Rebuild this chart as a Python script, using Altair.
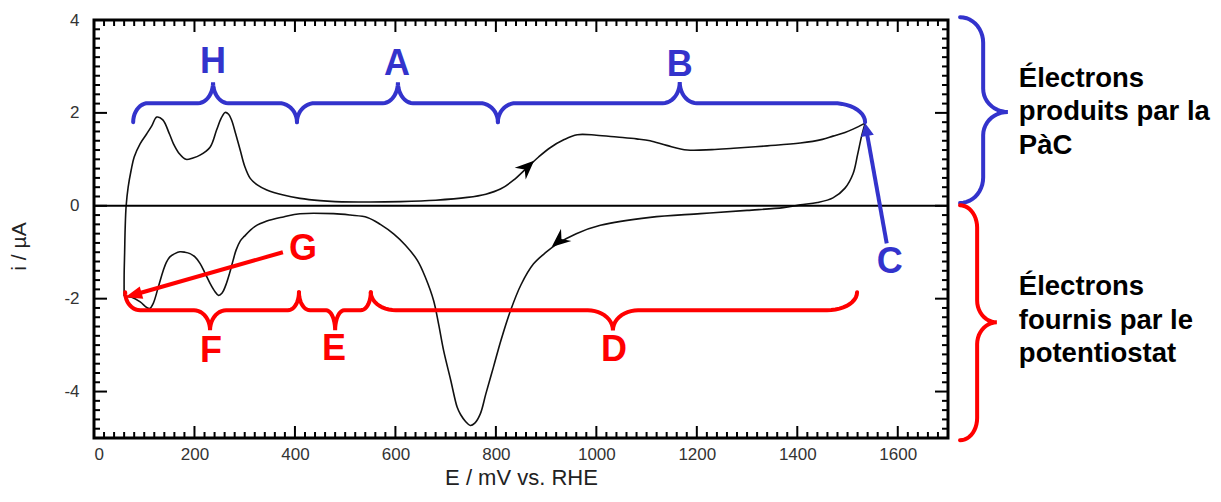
import altair as alt
import numpy as np
import pandas as pd

# ---------------- data: cyclic voltammogram (E / mV vs RHE, i / µA) ----------------
E_anodic = [60, 60, 61, 62, 64, 68, 74, 80, 92, 105, 115, 125, 137, 150, 158, 170, 183, 197, 211, 231,
            244, 253, 261, 268, 274, 282, 291, 300, 311, 325, 344, 377, 410, 450, 480, 550, 610, 680, 743, 780,
            809, 835, 862, 885, 908, 935, 962, 1000, 1041, 1080, 1107, 1140, 1181, 1230, 1273, 1340, 1406, 1450,
            1471, 1495, 1511, 1535]
i_anodic = [-1.95, -1.5, -1.0, -0.5, 0.0, 0.4, 0.77, 1.05, 1.34, 1.55, 1.72, 1.91, 1.85, 1.55, 1.34, 1.12, 1.0,
            1.03, 1.09, 1.26, 1.63, 1.88, 2.01, 1.97, 1.84, 1.55, 1.2, 0.85, 0.59, 0.45, 0.34, 0.23, 0.16, 0.11,
            0.09, 0.08, 0.09, 0.12, 0.18, 0.25, 0.36, 0.55, 0.82, 1.05, 1.25, 1.42, 1.53, 1.52, 1.48, 1.44, 1.40,
            1.30, 1.20, 1.21, 1.24, 1.29, 1.35, 1.43, 1.50, 1.58, 1.65, 1.78]

E_cathodic = [1535, 1528, 1520, 1511, 1495, 1471, 1440, 1406, 1372, 1300, 1207, 1107, 1008, 960, 922, 900, 875,
              850, 829, 810, 795, 780, 769, 758, 749, 740, 730, 723, 710, 696, 686, 676, 660, 644, 620, 597, 570,
              544, 510, 477, 410, 377, 344, 320, 299, 291, 283, 277, 270, 262, 255, 248, 241, 231, 221, 211, 201,
              191, 181, 171, 161, 151, 144, 138, 128, 118, 111, 105, 92, 75, 60]
i_cathodic = [1.78, 1.5, 1.1, 0.69, 0.38, 0.17, 0.07, 0.02, -0.04, -0.1, -0.17, -0.25, -0.42, -0.6, -0.82, -1.0,
              -1.25, -1.7, -2.26, -2.9, -3.48, -4.05, -4.48, -4.68, -4.73, -4.65, -4.5, -4.34, -3.75, -3.12, -2.55,
              -2.04, -1.55, -1.18, -0.85, -0.61, -0.4, -0.25, -0.2, -0.17, -0.17, -0.24, -0.33, -0.45, -0.66, -0.76,
              -0.95, -1.17, -1.45, -1.72, -1.88, -1.93, -1.85, -1.67, -1.45, -1.24, -1.1, -1.03, -1.0, -0.99, -1.03,
              -1.1, -1.22, -1.39, -1.75, -2.1, -2.21, -2.19, -2.07, -1.97, -1.95]

x_tick_labels = [0, 200, 400, 600, 800, 1000, 1200, 1400, 1600]
y_tick_labels = [-4, -2, 0, 2, 4]

# letters (annotation labels) and their anchors (data units)
letters = ["H", "A", "B", "C", "G", "F", "E", "D"]
letter_E = [237, 603, 1166, 1584, 416, 233, 478, 1035]
letter_i = [2.86, 2.81, 2.79, -1.45, -1.17, -3.37, -3.33, -3.35]
letter_col = ["#3333CC", "#3333CC", "#3333CC", "#3333CC", "#FF0000", "#FF0000", "#FF0000", "#FF0000"]

side_texts = ["Électrons\nproduits par la\nPàC", "Électrons\nfournis par le\npotentiostat"]
side_E = [1841, 1841]
side_i = [2.56, -1.93]

# horizontal braces: start, end, tip (mV), left/right/tip radii (mV)
hb_blue = [(78, 404, 237, 30, 36, 30), (404, 804, 605, 36, 36, 30), (804, 1535, 1166, 36, 64, 34)]
hb_red = [(62, 408, 231, 30, 22, 32), (408, 551, 480, 22, 20, 18), (551, 1519, 1033, 50, 60, 50)]
# vertical braces (right side): start, end, tip (µA), body E, end offset, tip offset, radii
vb_blue = (0.06, 4.06, 2.02, 1770, 46, 49, 0.55, 0.55, 0.5)
vb_red = (-5.05, 0.01, -2.51, 1758, 34, 39, 0.48, 0.48, 0.47)

# arrows: start -> tip (data units)
arrow_G = (376, -1.0, 62, -1.97)
arrow_C = (1578, -0.81, 1535, 1.78)

# ---------------- layout ----------------
W, H = 854, 418
X_MIN, X_MAX, Y_MIN, Y_MAX = 0, 1700, -5, 4
PX_X = W / (X_MAX - X_MIN)
PX_Y = H / (Y_MAX - Y_MIN)
FONT = "Liberation Sans"
BLUE, RED = "#3333CC", "#FF0000"


def brace(a0, a1, at, base, d_end, d_tip, r_l, r_r, r_t, n=12):
    t = np.linspace(0, np.pi / 2, n)
    al = np.concatenate([a0 + r_l * (1 - np.cos(t)),
                         at - r_t + r_t * np.sin(t),
                         at + r_t - r_t * np.cos(t),
                         a1 - r_r + r_r * np.sin(t)])
    ac = np.concatenate([base - d_end + d_end * np.sin(t),
                         base + d_tip - d_tip * np.cos(t),
                         base + d_tip - d_tip * np.sin(t),
                         base - d_end + d_end * np.cos(t)])
    return al, ac


rows = []
bid = 0
for (a0, a1, at, rl, rr, rt) in hb_blue:
    al, ac = brace(a0, a1, at, 2.21, 0.41, 0.45, rl, rr, rt)
    for k, (xv, yv) in enumerate(zip(al, ac)):
        rows.append(dict(E=float(xv), i=float(yv), k=k, bid=bid, col=BLUE))
    bid += 1
for (a0, a1, at, rl, rr, rt) in hb_red:
    al, ac = brace(a0, a1, at, -2.25, -0.39, -0.43, rl, rr, rt)
    for k, (xv, yv) in enumerate(zip(al, ac)):
        rows.append(dict(E=float(xv), i=float(yv), k=k, bid=bid, col=RED))
    bid += 1
for vb, c in ((vb_blue, BLUE), (vb_red, RED)):
    a0, a1, at, base, de, dt, rl, rr, rt = vb
    al, ac = brace(a0, a1, at, base, de, dt, rl, rr, rt)
    for k, (xv, yv) in enumerate(zip(al, ac)):
        rows.append(dict(E=float(yv), i=float(xv), k=k, bid=bid, col=c))
    bid += 1
brace_df = pd.DataFrame(rows)

# inward frame ticks (minor every 20 mV / 0.2 µA, major every 200 mV / 2 µA)
tick_rows = []
for v in range(0, 1701, 20):
    L = 12 if v % 200 == 0 else 6
    tick_rows.append(dict(E=float(v), E2=float(v), i=float(Y_MIN), i2=float(Y_MIN + L / PX_Y)))
    tick_rows.append(dict(E=float(v), E2=float(v), i=float(Y_MAX), i2=float(Y_MAX - L / PX_Y)))
for kk in range(-25, 21):
    v = kk / 5
    L = 13 if kk % 10 == 0 else 6
    tick_rows.append(dict(E=float(X_MIN), E2=float(X_MIN + L / PX_X), i=v, i2=v))
    tick_rows.append(dict(E=float(X_MAX), E2=float(X_MAX - L / PX_X), i=v, i2=v))
tick_df = pd.DataFrame(tick_rows)

curve_df = pd.concat([
    pd.DataFrame(dict(E=E_anodic, i=i_anodic, k=range(len(E_anodic)), branch="anodic")),
    pd.DataFrame(dict(E=E_cathodic, i=i_cathodic, k=range(len(E_cathodic)), branch="cathodic")),
])


def bearing(e0, i0, e1, i1):
    return float(np.degrees(np.arctan2((e1 - e0) * PX_X, (i1 - i0) * PX_Y)) % 360)


def shorten(e0, i0, e1, i1, L):
    dx, dy = (e1 - e0) * PX_X, (i1 - i0) * PX_Y
    d = np.hypot(dx, dy)
    return float(e1 - dx / d * L / PX_X), float(i1 - dy / d * L / PX_Y)


arrow_rows = []
for aid, (a, c, L) in enumerate(((arrow_G, RED, 10), (arrow_C, BLUE, 8))):
    e0, i0, e1, i1 = a
    ee, ie = shorten(e0, i0, e1, i1, L)
    arrow_rows += [dict(E=e0, i=i0, k=0, aid=aid, col=c), dict(E=ee, i=ie, k=1, aid=aid, col=c)]
arrow_df = pd.DataFrame(arrow_rows)

headG = pd.DataFrame(dict(E=[arrow_G[2]], i=[arrow_G[3]], ang=[bearing(*arrow_G)]))
headC = pd.DataFrame(dict(E=[arrow_C[2]], i=[arrow_C[3]], ang=[bearing(*arrow_C)]))
curve_heads = pd.DataFrame(dict(E=[876, 911], i=[0.97, -0.89], ang=[47, 230]))

letter_df = pd.DataFrame(dict(E=letter_E, i=letter_i, t=letters, col=letter_col))
side_df = pd.DataFrame(dict(E=side_E, i=side_i, t=side_texts))

xs = alt.Scale(domain=[X_MIN, X_MAX], nice=False, zero=False)
ys = alt.Scale(domain=[Y_MIN, Y_MAX], nice=False, zero=False)
x_axis = alt.Axis(values=x_tick_labels, title="E / mV vs. RHE", grid=False, ticks=False, domain=False,
                  labelPadding=8, labelFontSize=17, labelColor="#333333", labelFont=FONT,
                  labelExpr="'' + datum.value",
                  titleFont=FONT, titleFontSize=22, titleFontWeight="normal", titleColor="#222222",
                  titleBaseline="alphabetic", titleY=46)
y_axis = alt.Axis(values=y_tick_labels, title="i / µA", grid=False, ticks=False, domain=False,
                  labelPadding=15, labelFontSize=17, labelColor="#333333", labelFont=FONT,
                  labelExpr="'' + datum.value",
                  titleFont=FONT, titleFontSize=21, titleFontWeight="normal", titleColor="#222222",
                  titleBaseline="alphabetic", titleAngle=270, titleX=-69, titleY=226, titleAlign="center")
X = alt.X("E:Q", scale=xs, axis=x_axis)
Y = alt.Y("i:Q", scale=ys, axis=y_axis)

curve = alt.Chart(curve_df).mark_line(color="#111111", strokeWidth=1.6, interpolate="catmull-rom").encode(
    x=X, y=Y, detail="branch:N", order="k:Q")
zero = alt.Chart(pd.DataFrame(dict(i=[0.0]))).mark_rule(color="black", strokeWidth=2).encode(y=Y)

braces = alt.Chart(brace_df).mark_line(strokeWidth=4, clip=False, strokeCap="round").encode(
    x=X, y=Y, detail="bid:N", order="k:Q", color=alt.Color("col:N", scale=None))
arrows = alt.Chart(arrow_df).mark_line(strokeWidth=4, clip=False).encode(
    x=X, y=Y, detail="aid:N", order="k:Q", color=alt.Color("col:N", scale=None))

stealth = "M0,0L0.85,2L0,1.35L-0.85,2Z"
heads_curve = alt.Chart(curve_heads).mark_point(shape=stealth, filled=True, size=360, color="black",
                                                opacity=1, strokeWidth=0).encode(
    x=X, y=Y, angle=alt.Angle("ang:Q", scale=None))
head_G = alt.Chart(headG).mark_point(shape="M0,0L0.75,2L-0.75,2Z", filled=True, size=289, color=RED,
                                     opacity=1, strokeWidth=0, clip=False).encode(
    x=X, y=Y, angle=alt.Angle("ang:Q", scale=None))
head_C = alt.Chart(headC).mark_point(shape="M0,0L1,2L-1,2Z", filled=True, size=169, color=BLUE,
                                     opacity=1, strokeWidth=0, clip=False).encode(
    x=X, y=Y, angle=alt.Angle("ang:Q", scale=None))

letter_marks = alt.Chart(letter_df).mark_text(font=FONT, fontSize=36, fontWeight="bold", align="center",
                                              baseline="alphabetic", clip=False).encode(
    x=X, y=Y, text="t:N", color=alt.Color("col:N", scale=None))
side_marks = alt.Chart(side_df).mark_text(font=FONT, fontSize=27.5, fontWeight="bold", align="left",
                                          baseline="alphabetic", lineBreak="\n", lineHeight=33.5,
                                          color="black", clip=False).encode(x=X, y=Y, text="t:N")

# frame ticks drawn last, on top of everything
ticks = alt.Chart(tick_df).mark_rule(color="#000000", strokeWidth=2, opacity=1, clip=False).encode(
    x=X, x2="E2:Q", y=Y, y2="i2:Q")

chart = alt.layer(curve, zero, braces, arrows, heads_curve, head_G, head_C, letter_marks,
                  side_marks, ticks).properties(
    width=W, height=H,
    autosize=alt.AutoSizeParams(type="none"),
    padding={"left": 86, "top": 12, "right": 265, "bottom": 50},
).configure_view(stroke="black", strokeWidth=3)

chart.save("out.html", embed_options={"renderer": "svg", "actions": False})
